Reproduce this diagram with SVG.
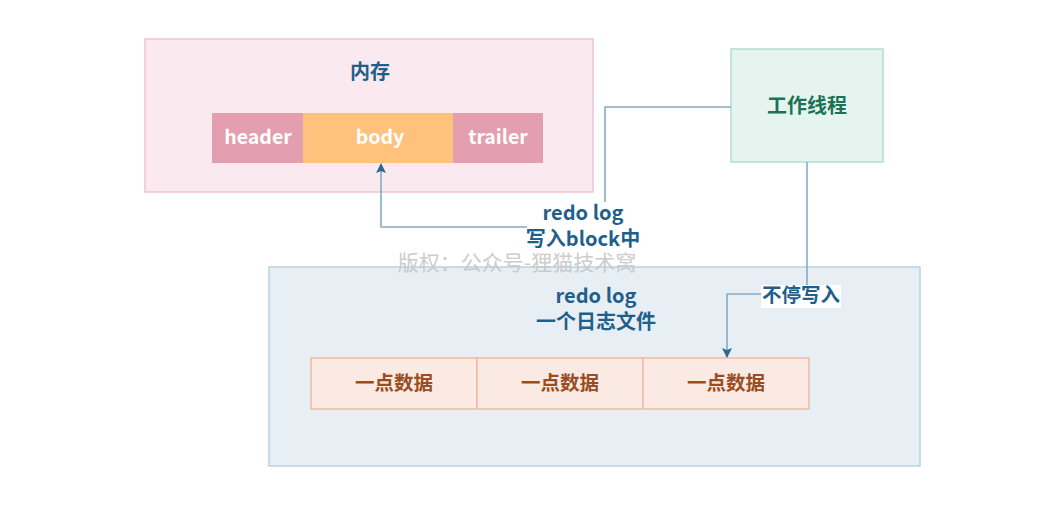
<svg xmlns="http://www.w3.org/2000/svg" width="1044" height="522" viewBox="0 0 1044 522">
<defs>
<style>
.t{font-family:"Noto Sans CJK SC","Noto Sans",sans-serif;font-weight:bold;text-anchor:middle}
.blue{fill:#1f5f8b;font-size:20px}
.w{fill:#ffffff;font-size:19.5px}
.data{fill:#9a4d1f;font-size:19.5px}
.line{fill:none;stroke:#86abc4;stroke-width:1.6}
</style>
<marker id="ah" viewBox="0 0 10 10" refX="9" refY="5" markerWidth="10" markerHeight="10" markerUnits="userSpaceOnUse" orient="auto">
<path d="M0,0 L10,5 L0,10 L2,5 z" fill="#2a6896"/>
</marker>
</defs>
<rect width="1044" height="522" fill="#ffffff"/>
<g id="memory">
<rect x="145" y="39" width="448" height="153" fill="#fae9ef" stroke="#f0c3d0" stroke-width="1.5"/>
<text class="t blue" x="370" y="79">内存</text>
</g>
<g id="header">
<rect x="212" y="113" width="91" height="50" fill="#e39eb0"/>
<text class="t w" x="258" y="144">header</text>
</g>
<g id="body">
<rect x="303" y="113" width="150" height="50" fill="#ffc27c"/>
<text class="t w" x="380" y="144">body</text>
</g>
<g id="trailer">
<rect x="453" y="113" width="90" height="50" fill="#e39eb0"/>
<text class="t w" x="498" y="144">trailer</text>
</g>
<g id="worker">
<rect x="731" y="49" width="152" height="113" fill="#e6f4ef" stroke="#b2ded0" stroke-width="1.5"/>
<text class="t" x="807" y="113" fill="#1b7356" font-size="20">工作线程</text>
</g>
<g id="redolog">
<rect x="269" y="267" width="651" height="199" fill="#e7eff4" stroke="#b6d4e1" stroke-width="1.5"/>
<text class="t blue" x="596" y="303">redo log</text>
<text class="t blue" x="596" y="329">一个日志文件</text>
</g>
<g id="data1">
<rect x="311" y="358" width="166" height="51" fill="#fbe9e3" stroke="#f0bba4" stroke-width="1.5"/>
<text class="t data" x="394" y="390">一点数据</text>
</g>
<g id="data2">
<rect x="477" y="358" width="166" height="51" fill="#fbe9e3" stroke="#f0bba4" stroke-width="1.5"/>
<text class="t data" x="560" y="390">一点数据</text>
</g>
<g id="data3">
<rect x="643" y="358" width="166" height="51" fill="#fbe9e3" stroke="#f0bba4" stroke-width="1.5"/>
<text class="t data" x="726" y="390">一点数据</text>
</g>
<g id="connectors">
<path class="line" d="M731,107 H605 V202"/>
<path class="line" d="M527,227 H381 V164" marker-end="url(#ah)"/>
<path class="line" d="M807,162 V286"/>
<path class="line" d="M762,294 H727 V357" marker-end="url(#ah)"/>
<rect x="761" y="285" width="80" height="23" fill="#ffffff"/>
<text class="t" x="801" y="302" fill="#1f5f8b" font-size="19.5">不停写入</text>
<text class="t blue" x="583" y="220">redo log</text>
<text class="t blue" x="583" y="246">写入block中</text>
</g>
<text x="517" y="270" font-family="Noto Sans CJK SC,sans-serif" font-size="21" fill="#c8c8c8" text-anchor="middle" opacity="0.9">版权：公众号-狸猫技术窝</text>
</svg>
